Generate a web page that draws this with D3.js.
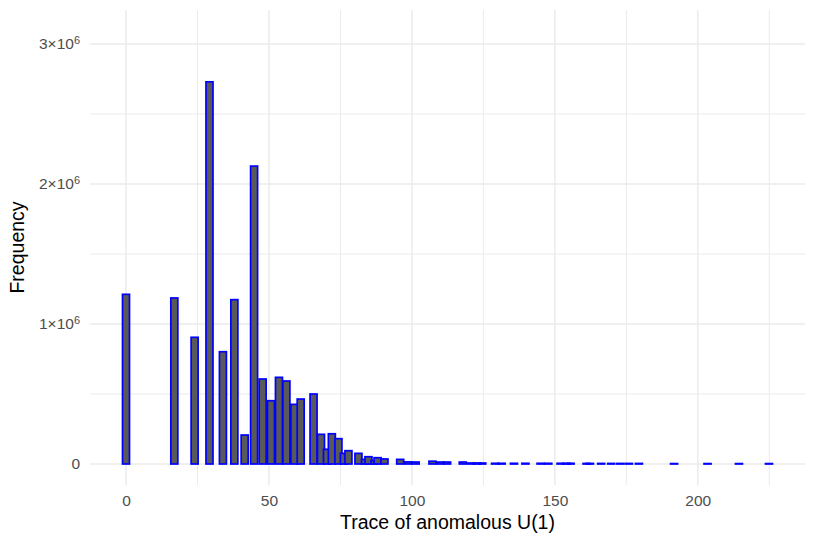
<!DOCTYPE html>
<html>
<head>
<meta charset="utf-8">
<script src="https://cdn.jsdelivr.net/npm/d3@7"></script>
<style>
  html, body { margin: 0; padding: 0; background: #ffffff; }
  svg { display: block; }
</style>
</head>
<body>
<svg id="chart" width="814" height="543"></svg>
<script>
// ---- data ----
const binCenters = [
  0, 16.9, 24.0, 29.2, 33.9, 37.9, 41.5, 44.8, 47.8, 50.7,
  53.5, 56.1, 58.9, 61.1, 65.6, 68.2, 70.3, 72.0, 74.3, 76.2,
  77.8, 81.3, 83.6, 84.8, 86.9, 88.0, 90.4, 95.9, 98.7, 101.3,
  107.2, 109.9, 112.3, 117.8, 120.8, 122.7, 124.6, 129.1, 131.4, 135.7,
  139.7, 145.0, 147.7, 152.0, 154.1, 155.5, 161.1, 162.3, 166.2, 169.7,
  172.9, 175.9, 179.4, 191.7, 203.4, 214.4, 224.9
];
const frequencies = [
  1212000, 1186000, 905000, 2730000, 802000, 1174000, 207000, 2128000, 607000, 452000,
  619000, 593000, 426000, 464000, 500000, 212000, 105000, 216000, 181000, 76000,
  95000, 76000, 33000, 52000, 24000, 45000, 36000, 33000, 15000, 14000,
  20000, 14000, 14000, 14000, 7000, 7000, 7000, 5000, 5000, 5000,
  5000, 5000, 5000, 5000, 5000, 5000, 4000, 4000, 4000, 4000,
  4000, 4000, 4000, 3000, 3000, 3000, 3000
];
const binWidth = 2.45;

const xTicks = [0, 50, 100, 150, 200];
const xMinorTicks = [25, 75, 125, 175, 225];
const yTicks = [0, 1e6, 2e6, 3e6];
const yMinorTicks = [0.5e6, 1.5e6, 2.5e6];
const yTickMantissa = ["0", "1", "2", "3"];
const yTickExponent = ["", "6", "6", "6"];

const xTitle = "Trace of anomalous U(1)";
const yTitle = "Frequency";

// ---- layout ----
const panel = { left: 90, right: 805, top: 10, bottom: 485 };
const font = "'Liberation Sans', Arial, Helvetica, sans-serif";

const svg = d3.select("#chart");

// x scale: data extent of bars expanded by 5% each side (ggplot style)
const xMin = d3.min(binCenters) - binWidth / 2;
const xMax = d3.max(binCenters) + binWidth / 2;
const xPad = (xMax - xMin) * 0.05;
const x = d3.scaleLinear()
  .domain([xMin - xPad, xMax + xPad])
  .range([panel.left, panel.right]);

const y = d3.scaleLinear()
  .domain([-0.15e6, 3.243e6])
  .range([panel.bottom, panel.top]);

// ---- grid ----
const grid = svg.append("g");
grid.selectAll("line.ymin").data(yMinorTicks).enter().append("line")
  .attr("x1", panel.left).attr("x2", panel.right)
  .attr("y1", d => y(d)).attr("y2", d => y(d))
  .attr("stroke", "#EBEBEB").attr("stroke-width", 1);
grid.selectAll("line.xmin").data(xMinorTicks).enter().append("line")
  .attr("y1", panel.top).attr("y2", panel.bottom)
  .attr("x1", d => x(d)).attr("x2", d => x(d))
  .attr("stroke", "#EBEBEB").attr("stroke-width", 1);
grid.selectAll("line.ymaj").data(yTicks).enter().append("line")
  .attr("x1", panel.left).attr("x2", panel.right)
  .attr("y1", d => y(d)).attr("y2", d => y(d))
  .attr("stroke", "#EBEBEB").attr("stroke-width", 1.5);
grid.selectAll("line.xmaj").data(xTicks).enter().append("line")
  .attr("y1", panel.top).attr("y2", panel.bottom)
  .attr("x1", d => x(d)).attr("x2", d => x(d))
  .attr("stroke", "#EBEBEB").attr("stroke-width", 1.5);

// ---- bars ----
const bars = binCenters.map((c, i) => ({ c: c, f: frequencies[i] }));
svg.append("g").selectAll("rect").data(bars).enter().append("rect")
  .attr("x", d => x(d.c - binWidth / 2))
  .attr("width", d => x(d.c + binWidth / 2) - x(d.c - binWidth / 2))
  .attr("y", d => y(d.f))
  .attr("height", d => y(0) - y(d.f))
  .attr("fill", "#595959")
  .attr("stroke", "#0000FF")
  .attr("stroke-width", 1.7);

// ---- axes ----
const xAxis = svg.append("g")
  .attr("transform", `translate(0,${panel.bottom})`)
  .call(d3.axisBottom(x).tickValues(xTicks).tickSize(0).tickPadding(10).tickFormat(d3.format("d")));
xAxis.select(".domain").remove();
xAxis.selectAll("text")
  .attr("fill", "#4D4D4D")
  .style("font-family", font)
  .style("font-size", "15.5px");

const yAxis = svg.append("g")
  .attr("transform", `translate(${panel.left},0)`)
  .call(d3.axisLeft(y).tickValues(yTicks).tickSize(0).tickPadding(10));
yAxis.select(".domain").remove();
yAxis.selectAll("text")
  .attr("fill", "#4D4D4D")
  .style("font-family", font)
  .style("font-size", "15.5px")
  .each(function(d, i) {
    const t = d3.select(this);
    t.text(null);
    if (yTickExponent[i] === "") {
      t.append("tspan").text(yTickMantissa[i]);
    } else {
      t.append("tspan").text(yTickMantissa[i] + "\u00D710");
      t.append("tspan").attr("dy", "-0.5em").style("font-size", "11px").text(yTickExponent[i]);
    }
  });

// ---- titles ----
svg.append("text")
  .attr("x", (panel.left + panel.right) / 2)
  .attr("y", 529)
  .attr("text-anchor", "middle")
  .attr("fill", "#000000")
  .style("font-family", font)
  .style("font-size", "19.5px")
  .text(xTitle);

svg.append("text")
  .attr("transform", `translate(24,${(panel.top + panel.bottom) / 2}) rotate(-90)`)
  .attr("text-anchor", "middle")
  .attr("fill", "#000000")
  .style("font-family", font)
  .style("font-size", "19.5px")
  .text(yTitle);
</script>
</body>
</html>
